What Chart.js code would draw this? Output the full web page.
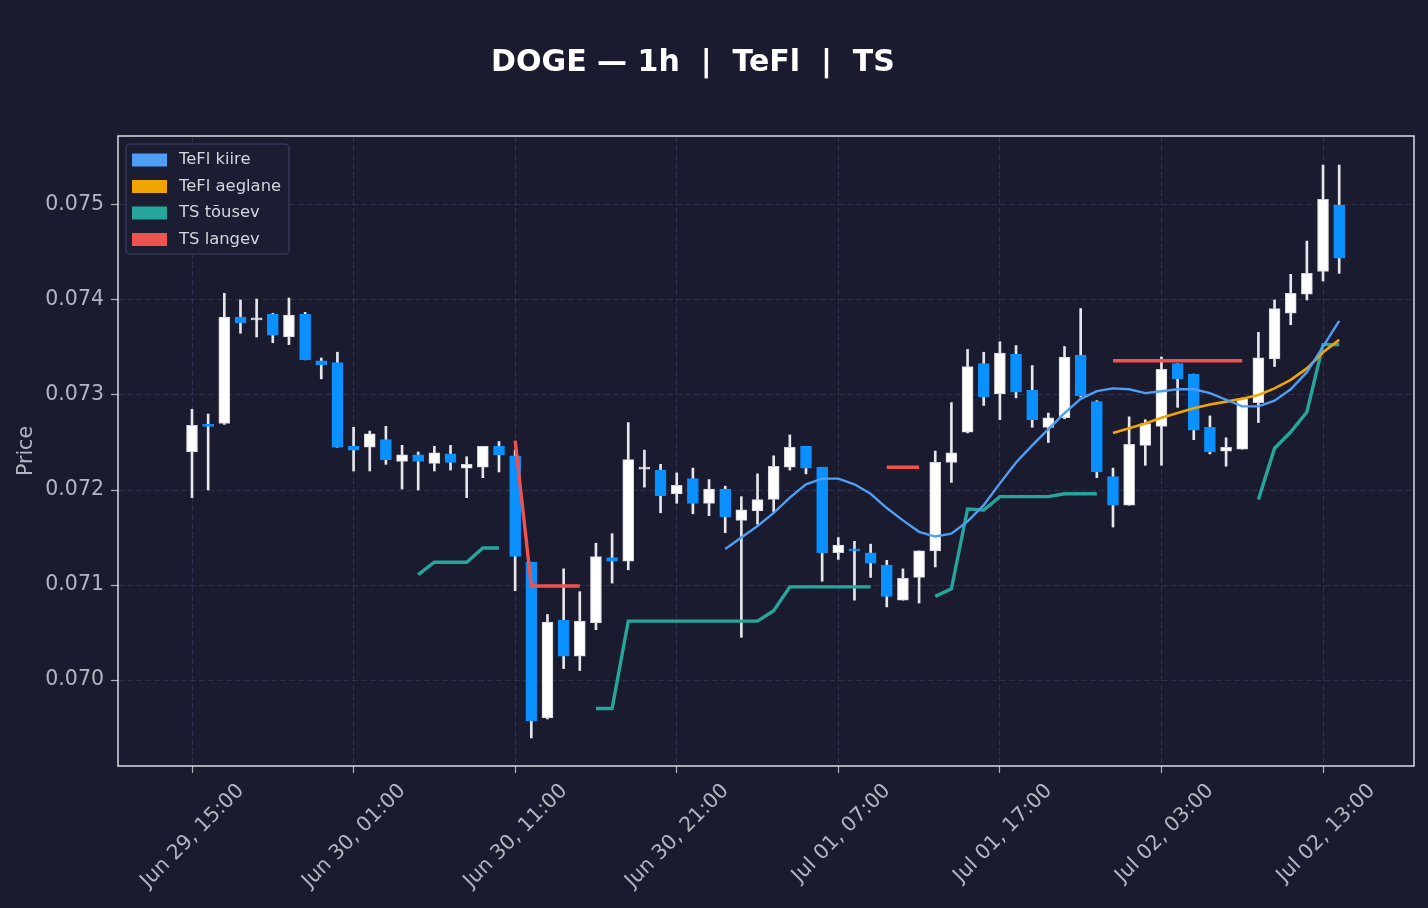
<!DOCTYPE html>
<html>
<head>
<meta charset="utf-8">
<script src="https://cdn.jsdelivr.net/npm/chart.js@4.4.1/dist/chart.umd.min.js"></script>
<style>
  html, body { margin: 0; padding: 0; background: #1a1b2e; }
  #wrap { width: 1428px; height: 908px; }
</style>
</head>
<body>
<div id="wrap"><canvas id="chart" width="1428" height="908"></canvas></div>
<script>
// Hourly candles, index 0 = Jun 29 15:00
const opens = [
  0.07240, 0.07269, 0.07270, 0.07382, 0.07379, 0.07385, 0.07361, 0.07385, 0.07336, 0.07334,
  0.07246, 0.07245, 0.07253, 0.07230, 0.07237, 0.07228, 0.07238, 0.07223, 0.07224, 0.07246,
  0.07236, 0.07124, 0.06960, 0.07063, 0.07025, 0.07060, 0.07129, 0.07125, 0.07222, 0.07221,
  0.07196, 0.07212, 0.07186, 0.07201, 0.07168, 0.07178, 0.07190, 0.07224, 0.07246, 0.07224,
  0.07134, 0.07138, 0.07134, 0.07121, 0.07084, 0.07108, 0.07136, 0.07229, 0.07261, 0.07333,
  0.07301, 0.07343, 0.07305, 0.07266, 0.07276, 0.07342, 0.07293, 0.07214, 0.07184, 0.07247,
  0.07267, 0.07333, 0.07322, 0.07266, 0.07241, 0.07243, 0.07292, 0.07338, 0.07386, 0.07406,
  0.07430, 0.07500
];
const highs = [
  0.07285, 0.07280, 0.07407, 0.07400, 0.07401, 0.07386, 0.07402, 0.07387, 0.07339, 0.07345,
  0.07266, 0.07262, 0.07267, 0.07247, 0.07240, 0.07246, 0.07247, 0.07235, 0.07246, 0.07251,
  0.07242, 0.07124, 0.07069, 0.07117, 0.07093, 0.07144, 0.07154, 0.07271, 0.07242, 0.07227,
  0.07218, 0.07223, 0.07211, 0.07204, 0.07193, 0.07217, 0.07236, 0.07258, 0.07246, 0.07224,
  0.07150, 0.07146, 0.07143, 0.07126, 0.07117, 0.07136, 0.07241, 0.07292, 0.07348, 0.07345,
  0.07356, 0.07352, 0.07331, 0.07281, 0.07351, 0.07391, 0.07294, 0.07223, 0.07277, 0.07274,
  0.07340, 0.07333, 0.07322, 0.07278, 0.07255, 0.07297, 0.07366, 0.07400, 0.07427, 0.07462,
  0.07542, 0.07542
];
const lows = [
  0.07192, 0.07200, 0.07269, 0.07365, 0.07361, 0.07355, 0.07353, 0.07337, 0.07317, 0.07245,
  0.07220, 0.07220, 0.07227, 0.07201, 0.07200, 0.07220, 0.07221, 0.07192, 0.07213, 0.07219,
  0.07094, 0.06939, 0.06959, 0.07012, 0.07010, 0.07053, 0.07102, 0.07116, 0.07203, 0.07176,
  0.07186, 0.07175, 0.07173, 0.07155, 0.07045, 0.07164, 0.07177, 0.07221, 0.07217, 0.07104,
  0.07127, 0.07084, 0.07108, 0.07077, 0.07084, 0.07081, 0.07119, 0.07208, 0.07260, 0.07289,
  0.07274, 0.07297, 0.07266, 0.07250, 0.07275, 0.07298, 0.07213, 0.07161, 0.07184, 0.07226,
  0.07226, 0.07287, 0.07253, 0.07238, 0.07225, 0.07243, 0.07271, 0.07330, 0.07374, 0.07400,
  0.07420, 0.07428
];
const closes = [
  0.07268, 0.07267, 0.07382, 0.07376, 0.07381, 0.07363, 0.07384, 0.07337, 0.07332, 0.07245,
  0.07242, 0.07259, 0.07232, 0.07237, 0.07230, 0.07239, 0.07229, 0.07227, 0.07246, 0.07237,
  0.07130, 0.06957, 0.07061, 0.07025, 0.07062, 0.07130, 0.07125, 0.07232, 0.07224, 0.07194,
  0.07205, 0.07186, 0.07201, 0.07172, 0.07179, 0.07190, 0.07225, 0.07245, 0.07223, 0.07134,
  0.07142, 0.07136, 0.07123, 0.07088, 0.07107, 0.07136, 0.07229, 0.07239, 0.07330, 0.07298,
  0.07344, 0.07303, 0.07274, 0.07276, 0.07340, 0.07299, 0.07219, 0.07184, 0.07248, 0.07270,
  0.07327, 0.07317, 0.07263, 0.07240, 0.07245, 0.07296, 0.07339, 0.07391, 0.07407, 0.07428,
  0.07506, 0.07444
];

// Indicator lines (null = not drawn)
const teflFast = [
  null, null, null, null, null, null, null, null, null, null,
  null, null, null, null, null, null, null, null, null, null,
  null, null, null, null, null, null, null, null, null, null,
  null, null, null, 0.07138, 0.07150, 0.07162, 0.07176, 0.07192, 0.07206, 0.07212,
  0.07212, 0.07206, 0.07196, 0.07181, 0.07168, 0.07156, 0.07151, 0.07154, 0.07167, 0.07184,
  0.07207, 0.07229, 0.07247, 0.07264, 0.07281, 0.07296, 0.07304, 0.07307, 0.07306, 0.07302,
  0.07304, 0.07306, 0.07306, 0.07302, 0.07295, 0.07288, 0.07288, 0.07294, 0.07306, 0.07324,
  0.07351, 0.07378
];
const teflSlow = [
  null, null, null, null, null, null, null, null, null, null,
  null, null, null, null, null, null, null, null, null, null,
  null, null, null, null, null, null, null, null, null, null,
  null, null, null, null, null, null, null, null, null, null,
  null, null, null, null, null, null, null, null, null, null,
  null, null, null, null, null, null, null, 0.07260, 0.07265, 0.07270,
  0.07276, 0.07281, 0.07286, 0.07290, 0.07293, 0.07296, 0.07300, 0.07307, 0.07316, 0.07328,
  0.07345, 0.07358
];
const tsUp = [
  null, null, null, null, null, null, null, null, null, null,
  null, null, null, null, 0.07111, 0.07124, 0.07124, 0.07124, 0.07139, 0.07139,
  null, null, null, null, null, 0.06970, 0.06970, 0.07062, 0.07062, 0.07062,
  0.07062, 0.07062, 0.07062, 0.07062, 0.07062, 0.07062, 0.07073, 0.07098, 0.07098, 0.07098,
  0.07098, 0.07098, 0.07098, null, null, null, 0.07088, 0.07096, 0.07180, 0.07179,
  0.07193, 0.07193, 0.07193, 0.07193, 0.07196, 0.07196, 0.07196, null, null, null,
  null, null, null, null, null, null, 0.07190, 0.07244, 0.07261, 0.07282,
  0.07353, 0.07353
];
const tsDown = [
  null, null, null, null, null, null, null, null, null, null,
  null, null, null, null, null, null, null, null, null, null,
  0.07252, 0.07099, 0.07099, 0.07099, 0.07099, null, null, null, null, null,
  null, null, null, null, null, null, null, null, null, null,
  null, null, null, 0.07224, 0.07224, 0.07224, null, null, null, null,
  null, null, null, null, null, null, null, 0.07336, 0.07336, 0.07336,
  0.07336, 0.07336, 0.07336, 0.07336, 0.07336, 0.07336, null, null, null, null,
  null, null
];

// Axis ticks
const xTickHours = [0, 10, 20, 30, 40, 50, 60, 70];
const xTickLabels = [
  "Jun 29, 15:00", "Jun 30, 01:00", "Jun 30, 11:00", "Jun 30, 21:00",
  "Jul 01, 07:00", "Jul 01, 17:00", "Jul 02, 03:00", "Jul 02, 13:00"
];
const yTicks = [0.070, 0.071, 0.072, 0.073, 0.074, 0.075];

const BG = "#1a1b2e";
const TEXT = "#b4b5c0";
const GRID = "rgba(62, 64, 100, 0.55)";
const UP = "#ffffff";
const DOWN = "#0a90ff";
const FONT = "DejaVu Sans";

const isUp = closes.map((c, i) => c >= opens[i]);
const bodyData = closes.map((c, i) => ({ x: i, y: [opens[i], c] }));
const wickData = highs.map((h, i) => ({ x: i, y: [lows[i], h] }));
const toXY = (arr) => arr.map((v, i) => ({ x: i, y: v }));

const lineDataset = (label, arr, color, width) => ({
  type: "line",
  label,
  data: toXY(arr),
  borderColor: color,
  backgroundColor: color,
  borderWidth: width,
  pointRadius: 0,
  tension: 0,
  spanGaps: false,
  order: 0,
  inLegend: true,
});

// Plugins
const backgroundPlugin = {
  id: "bg",
  beforeDraw(chart) {
    const ctx = chart.ctx;
    ctx.save();
    ctx.fillStyle = BG;
    ctx.fillRect(0, 0, chart.width, chart.height);
    ctx.restore();
  },
};

const framePlugin = {
  id: "frame",
  afterDatasetsDraw(chart) {
    const { ctx, chartArea: a } = chart;
    ctx.save();
    ctx.strokeStyle = "#dcdce2";
    ctx.lineWidth = 1.5;
    ctx.strokeRect(a.left, a.top, a.right - a.left, a.bottom - a.top);
    ctx.restore();
  },
};

const titlePlugin = {
  id: "figTitle",
  afterDraw(chart) {
    const ctx = chart.ctx;
    ctx.save();
    ctx.fillStyle = "#ffffff";
    ctx.font = `bold 30px "${FONT}"`;
    ctx.textAlign = "center";
    ctx.textBaseline = "middle";
    ctx.fillText("DOGE \u2014 1h  |  TeFl  |  TS", 693, 63);
    ctx.restore();
  },
};

const legendPlugin = {
  id: "boxLegend",
  afterDraw(chart) {
    const { ctx, chartArea: a } = chart;
    const items = chart.data.datasets.filter((d) => d.inLegend);
    const x = a.left + 8, y = a.top + 8, w = 163, h = 110;
    ctx.save();
    ctx.beginPath();
    ctx.roundRect(x, y, w, h, 4);
    ctx.fillStyle = "rgba(28, 29, 50, 0.85)";
    ctx.fill();
    ctx.strokeStyle = "#3c3e62";
    ctx.lineWidth = 1.2;
    ctx.stroke();
    ctx.font = `16.4px "${FONT}"`;
    ctx.textBaseline = "middle";
    items.forEach((d, k) => {
      const cy = y + 16 + k * 26.5;
      ctx.fillStyle = d.borderColor;
      ctx.fillRect(x + 6, cy - 6.5, 35, 13);
      ctx.fillStyle = "#d4d5dd";
      ctx.fillText(d.label, x + 53, cy);
    });
    ctx.restore();
  },
};

const axisFont = { family: FONT, size: 20.5 };

new Chart(document.getElementById("chart"), {
  type: "bar",
  data: {
    datasets: [
      lineDataset("TeFl kiire", teflFast, "#4f9ef5", 2.4),
      lineDataset("TeFl aeglane", teflSlow, "#f0a500", 2.6),
      lineDataset("TS tõusev", tsUp, "#26a69a", 3.4),
      lineDataset("TS langev", tsDown, "#ef5350", 3.4),
      {
        type: "bar",
        label: "body",
        data: bodyData,
        backgroundColor: isUp.map((u) => (u ? UP : DOWN)),
        borderColor: isUp.map((u) => (u ? "#d2d2da" : DOWN)),
        borderWidth: 1,
        borderSkipped: false,
        barThickness: 11,
        minBarLength: 2,
        grouped: false,
        order: 1,
      },
      {
        type: "bar",
        label: "wick",
        data: wickData,
        backgroundColor: "#e6e6ec",
        barThickness: 2,
        grouped: false,
        order: 2,
      },
    ],
  },
  options: {
    responsive: false,
    animation: false,
    events: [],
    layout: { padding: { top: 136, right: 14, bottom: 0, left: 0 } },
    plugins: {
      legend: { display: false },
      tooltip: { enabled: false },
      title: { display: false },
    },
    scales: {
      x: {
        type: "linear",
        offset: false,
        min: -4.58,
        max: 75.63,
        afterBuildTicks: (axis) => {
          axis.ticks = xTickHours.map((v) => ({ value: v }));
        },
        afterFit: (axis) => {
          axis.height = 142;
        },
        ticks: {
          autoSkip: false,
          minRotation: 45,
          maxRotation: 45,
          padding: 6,
          labelOffset: 49,
          color: TEXT,
          font: axisFont,
          callback: (v) => xTickLabels[xTickHours.indexOf(v)],
        },
        grid: { offset: false, color: GRID, lineWidth: 1, tickColor: "#b0b0b8", tickLength: 7, tickWidth: 1.2 },
        border: { display: false, dash: [6, 3] },
      },
      y: {
        type: "linear",
        min: 0.069095,
        max: 0.075726,
        afterBuildTicks: (axis) => {
          axis.ticks = yTicks.map((v) => ({ value: v }));
        },
        afterFit: (axis) => {
          axis.width = 118;
        },
        ticks: {
          padding: 7,
          color: TEXT,
          font: axisFont,
          callback: (v) => v.toFixed(3),
        },
        grid: { color: GRID, lineWidth: 1, tickColor: "#b0b0b8", tickLength: 7, tickWidth: 1.2 },
        border: { display: false, dash: [6, 3] },
        title: {
          display: true,
          text: "Price",
          color: TEXT,
          font: axisFont,
          padding: { top: 14, bottom: 0 },
        },
      },
    },
  },
  plugins: [backgroundPlugin, framePlugin, titlePlugin, legendPlugin],
});
</script>
</body>
</html>
